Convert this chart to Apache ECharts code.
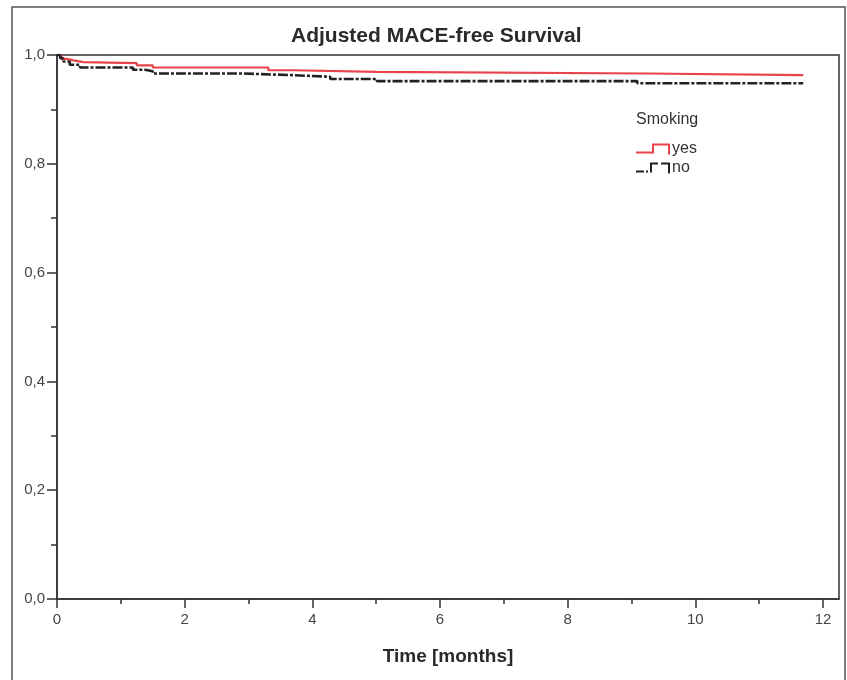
<!DOCTYPE html>
<html>
<head>
<meta charset="utf-8">
<script src="https://cdn.jsdelivr.net/npm/echarts@6/dist/echarts.min.js"></script>
<style>
  html, body { margin: 0; padding: 0; background: #fff; }
  #chart { width: 847px; height: 680px; }
</style>
</head>
<body>
<div id="chart"></div>
<script>
// Kaplan-Meier style step curves
const yesTime = [0, 0.07, 0.15, 0.26, 0.41, 1.25, 1.50, 3.31, 3.70, 5.01, 9.24, 11.69];
const yesSurv = [1.0, 0.993, 0.990, 0.987, 0.985, 0.981, 0.977, 0.972, 0.969, 0.966, 0.963, 0.963];
const noTime = [0, 0.05, 0.10, 0.20, 0.36, 1.19, 1.38, 1.50, 2.91, 3.68, 4.28, 5.01, 9.09, 11.69];
const noSurv = [1.0, 0.994, 0.988, 0.982, 0.977, 0.973, 0.970, 0.966, 0.963, 0.960, 0.956, 0.952, 0.948, 0.948];
const xMajorTicks = [0, 2, 4, 6, 8, 10, 12];
const xMinorTicks = [1, 3, 5, 7, 9, 11];

const pairs = (xs, ys) => xs.map((x, i) => [x, ys[i]]);

let chart = echarts.init(document.getElementById('chart'));
const fontFam = 'Liberation Sans, Arial, sans-serif';

var option = {
  animation: false,
  title: [
    {
      text: 'Adjusted MACE-free Survival',
      left: 286,
      top: 21,
      textStyle: { fontFamily: 'Liberation Sans Narrow, Liberation Sans, Arial', fontSize: 21, fontWeight: 'bold', color: '#2a2a2a' }
    },
    {
      text: 'Smoking',
      left: 631,
      top: 107,
      textStyle: { fontFamily: fontFam, fontSize: 16, fontWeight: 'normal', color: '#333' }
    }
  ],
  legend: {
    orient: 'vertical',
    left: 631,
    top: 136,
    itemWidth: 34,
    itemHeight: 12,
    itemGap: 3,
    textStyle: { fontFamily: fontFam, fontSize: 16, color: '#333', padding: [0, 0, 0, -3] },
    data: [
      { name: 'yes', icon: 'path://M0 9H16V1H34V12H32V3H18V11H0Z' },
      { name: 'no', icon: 'path://M0 9H8V11H0Z M10 9H12V11H10Z M14 11V1H22V3H16V11Z M25 1H34V12H32V3H25Z' }
    ]
  },
  graphic: [
    {
      type: 'rect',
      shape: { x: 12, y: 7, width: 833, height: 700 },
      style: { fill: 'none', stroke: '#555', lineWidth: 1.5 },
      silent: true
    }
  ],
  grid: {
    left: 57, right: 8, top: 55, bottom: 81,
    show: true, borderColor: '#333', borderWidth: 1.5, backgroundColor: 'transparent'
  },
  xAxis: [
    {
      type: 'value', min: 0, max: 12.25, interval: 2,
      name: 'Time [months]', nameLocation: 'middle', nameGap: 48,
      nameTextStyle: { fontFamily: fontFam, fontSize: 19, fontWeight: 'bold', color: '#2a2a2a' },
      axisLine: { show: true, lineStyle: { color: '#333', width: 1.5 } },
      axisTick: { show: true, length: 9, customValues: xMajorTicks, lineStyle: { color: '#333', width: 1.5 } },
      axisLabel: { customValues: xMajorTicks, margin: 13, fontFamily: fontFam, fontSize: 15, color: '#444' },
      splitLine: { show: false }
    },
    {
      type: 'value', min: 0, max: 12.25, position: 'bottom',
      axisLine: { show: false },
      axisTick: { show: true, length: 5, customValues: xMinorTicks, lineStyle: { color: '#333', width: 1.5 } },
      axisLabel: { show: false },
      splitLine: { show: false }
    }
  ],
  yAxis: {
    type: 'value', min: 0, max: 1, interval: 0.2,
    axisLine: { show: true, lineStyle: { color: '#333', width: 1.5 } },
    axisTick: { show: true, length: 10, lineStyle: { color: '#333', width: 1.5 } },
    minorTick: { show: true, splitNumber: 2, length: 6, lineStyle: { color: '#333', width: 1.5 } },
    axisLabel: {
      margin: 12, fontFamily: fontFam, fontSize: 15, color: '#444',
      formatter: v => v.toFixed(1).replace('.', ',')
    },
    splitLine: { show: false }
  },
  series: [
    {
      name: 'yes', type: 'line', step: 'end', showSymbol: false,
      data: pairs(yesTime, yesSurv),
      color: '#e8434a',
      lineStyle: { color: '#e8434a', width: 2.2 }
    },
    {
      name: 'no', type: 'line', step: 'end', showSymbol: false,
      data: pairs(noTime, noSurv),
      color: '#222',
      lineStyle: { color: '#222', width: 2.6, type: [10, 2, 3, 2] }
    }
  ]
};

chart.setOption(option);
window.addEventListener('resize', () => {
  chart.resize();
});
</script>
</body>
</html>
